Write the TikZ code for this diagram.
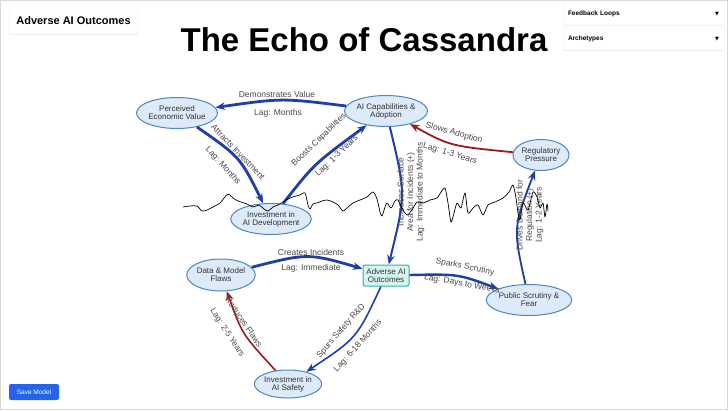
\documentclass[tikz,border=0pt]{standalone}
\usepackage{fontspec}
\setmainfont{Liberation Sans}
\newfontfamily\symfont{DejaVu Sans}
\usepackage{xcolor}
\usetikzlibrary{arrows.meta,shapes.geometric,positioning,shadows}

\definecolor{linkblue}{HTML}{1F3FA6}
\definecolor{linkred}{HTML}{9B1C1C}
\definecolor{nodefill}{HTML}{DCEAF9}
\definecolor{nodeline}{HTML}{4F86C0}
\definecolor{outfill}{HTML}{D6F5EE}
\definecolor{outedge}{HTML}{2FB3A0}
\definecolor{lbltext}{HTML}{4A4A4A}
\definecolor{btnblue}{HTML}{2563EB}

\begin{document}
\begin{tikzpicture}[x=1pt, y=-1pt,
      every node/.style={font=\fontsize{8}{8}\selectfont},
      factor/.style={ellipse, draw=nodeline, fill=nodefill, line width=1pt,
                     minimum width=74pt, minimum height=31pt, inner sep=0pt,
                     align=center, text=black!80},
      outcome/.style={rectangle, rounded corners=2pt, draw=outedge, fill=outfill,
                      line width=1pt, minimum width=46pt, minimum height=21pt,
                      inner sep=0pt, align=center, text=black!80},
      plink/.style={draw=linkblue, -{Stealth[length=9.5pt,width=7.5pt]}},
      nlink/.style={draw=linkred, -{Stealth[length=9.5pt,width=7.5pt]}},
      lbl/.style={text=lbltext, font=\fontsize{8.5}{9.5}\selectfont,
                  inner sep=0pt, align=center},
      panel/.style={draw=black!7, fill=white, rounded corners=2pt, inner sep=0pt,
                    drop shadow={shadow xshift=0pt, shadow yshift=-1pt, opacity=0.12}},
    ]
    \useasboundingbox (0,0) rectangle (728,410);
    \fill[white] (0,0) rectangle (728,410);
    \draw[black!15, line width=0.8pt] (0.5,0.5) rectangle (727.5,409.5);

    % --- header ---
    \node[panel, minimum width=129pt, minimum height=26pt,
          font=\fontsize{11}{11}\selectfont\bfseries] (tab) at (73.5,21) {Adverse AI Outcomes};
    \node[font=\fontsize{33}{33}\selectfont\bfseries] (title) at (364,40) {The Echo of Cassandra};

    \foreach \txt [count=\i from 0] in {Feedback Loops, Archetypes} {
      \node[panel, minimum width=161pt, minimum height=22pt, text width=151pt, align=left,
            font=\fontsize{6.5}{6.5}\selectfont\bfseries] (menu\i) at (643.5,14+\i*25)
            {\txt\hfill{\symfont\fontsize{5}{5}\selectfont ▼}};
    }

    \node[fill=btnblue, rounded corners=2pt, minimum width=50pt, minimum height=16pt,
          inner sep=0pt, text=white, font=\fontsize{6.5}{6.5}\selectfont] (save) at (34,392) {Save Model};

    % --- factors ---
    \node[factor] (value) at (177,113) {Perceived\\Economic Value};
    \node[factor] (capab) at (386,111) {AI Capabilities \&\\Adoption};
    \node[factor, minimum width=56pt] (regul) at (541,155) {Regulatory\\Pressure};
    \node[factor] (invdev) at (271,219) {Investment in\\AI Development};
    \node[factor, minimum width=64pt, minimum height=32pt] (flaws) at (221,275) {Data \& Model\\Flaws};
    \node[outcome] (adverse) at (386,275.5) {Adverse AI\\Outcomes};
    \node[factor, minimum width=76pt] (public) at (529,300) {Public Scrutiny \&\\Fear};
    \node[factor, minimum width=64pt, minimum height=28pt] (invsafe) at (288,384) {Investment in\\AI Safety};

    % --- links ---
    \draw[plink, line width=2.8pt] (capab) .. controls (282,98) .. (value);
    \draw[plink, line width=2.8pt] (value) .. controls (240,157) .. (invdev);
    \draw[plink, line width=2.8pt] (invdev) .. controls (314,164) .. (capab);
    \draw[plink, line width=2pt] (capab) .. controls (406,194) .. (adverse);
    \draw[nlink, line width=1.8pt] (regul) .. controls (450,146) .. (capab);
    \draw[plink, line width=1.8pt] (public) .. controls (513,228) .. (regul);
    \draw[plink, line width=2.8pt] (flaws) .. controls (308,253) .. (adverse);
    \draw[plink, line width=2.4pt] (adverse) .. controls (458,274) .. (public);
    \draw[plink, line width=1.6pt] (adverse) .. controls (357,338) .. (invsafe);
    \draw[nlink, line width=1.6pt] (invsafe) .. controls (242,334) .. (flaws);

    % --- link labels ---
    \node[lbl] (l1a) at (277,94) {Demonstrates Value};
    \node[lbl] (l1b) at (278,113) {Lag: Months};
    \node[lbl, rotate=-46] (l2a) at (238,152) {Attracts Investment};
    \node[lbl, rotate=-48] (l2b) at (223,166) {Lag: Months};
    \node[lbl, rotate=44] (l3a) at (319,140) {Boosts Capabilities};
    \node[lbl, rotate=44] (l3b) at (337,156) {Lag: 1-3 Years};
    \node[lbl, rotate=90] (l4) at (411,192) {Increases Surface\\Area for Incidents (+)\\Lag: Immediate to Months};
    \node[lbl, rotate=-16] (l5a) at (454,133) {Slows Adoption};
    \node[lbl, rotate=-17] (l5b) at (450,154) {Lag: 1-3 Years};
    \node[lbl, rotate=90] (l6) at (530,215) {Drives Demand for\\Regulation (+)\\Lag: 1-2 Years};
    \node[lbl] (l7a) at (311,252) {Creates Incidents};
    \node[lbl] (l7b) at (311,268) {Lag: Immediate};
    \node[lbl, rotate=-11] (l8a) at (465,267) {Sparks Scrutiny};
    \node[lbl, rotate=-10] (l8b) at (462,284) {Lag: Days to Weeks};
    \node[lbl, rotate=49] (l9a) at (341,331) {Spurs Safety R\&D};
    \node[lbl, rotate=48] (l9b) at (358,346) {Lag: 6-18 Months};
    \node[lbl, rotate=-55] (l10a) at (244,322) {Reduces Flaws};
    \node[lbl, rotate=-57] (l10b) at (227,333) {Lag: 2-5 Years};

    % --- signal trace ---
    \draw[black, line width=0.7pt, line join=round] plot[smooth, tension=0.45] coordinates {
      (183,207) (190,206) (197,206) (202,211) (207,210) (213,207) (220,203) (224,198)
      (228,194) (232,197) (236,200) (241,202) (247,204) (253,207) (259,205) (264,209)
      (268,211) (273,207) (278,205) (283,202) (290,198) (296,196) (300,195) (305,193)
      (308,205) (310,209) (313,204) (317,203) (322,201) (327,200) (333,202) (338,205)
      (343,211) (348,207) (353,203) (360,200) (367,197) (373,192) (377,199) (380,212)
      (382,216) (385,207) (387,203) (391,208) (395,201) (398,200) (403,210) (407,215)
      (412,210) (417,202) (423,203) (430,200) (437,198) (441,192) (445,188) (448,203)
      (451,222) (454,213) (457,203) (461,208) (465,193) (468,213) (473,208) (478,205)
      (483,215) (488,205) (495,202) (503,198) (509,192) (513,185) (516,198) (518,213)
      (520,220) (523,203) (528,210) (533,192) (537,197) (540,208) (543,203) (545,217)
      (547,204) (548,211)};
  \end{tikzpicture}
\end{document}
